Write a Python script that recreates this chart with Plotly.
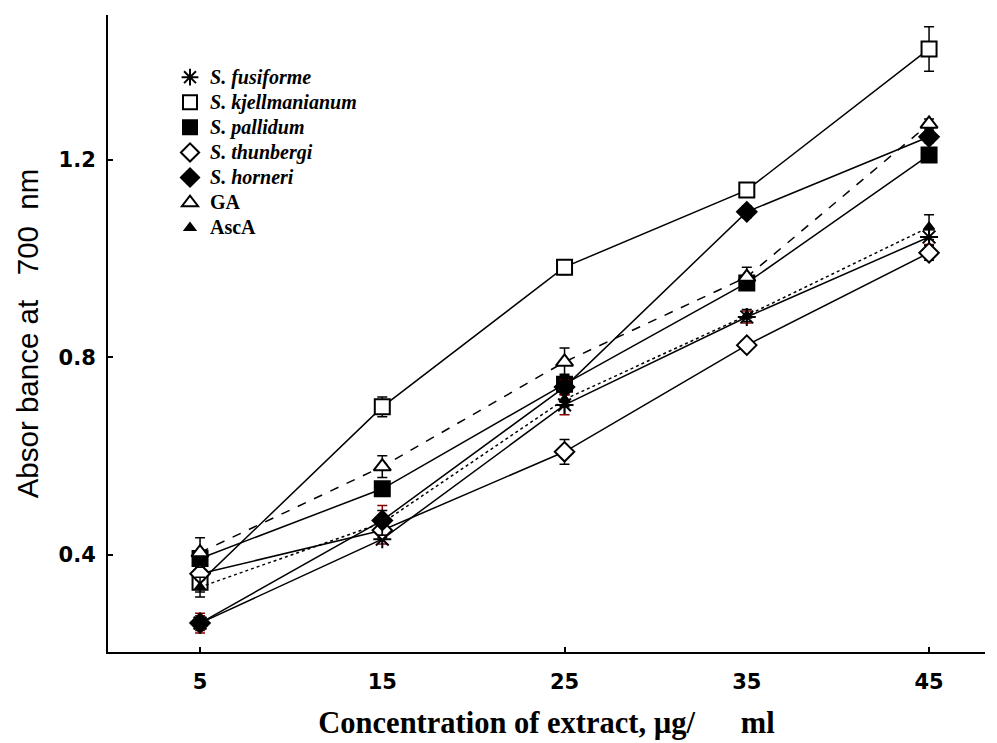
import plotly.graph_objects as go

concentration = [5, 15, 25, 35, 45]

series_names = ["S. fusiforme", "S. kjellmanianum", "S. pallidum", "S. thunbergi",
                "S. horneri", "GA", "AscA"]

fusiforme = [0.262, 0.432, 0.704, 0.882, 1.044]
kjellmanianum = [0.345, 0.700, 0.983, 1.139, 1.425]
pallidum = [0.393, 0.534, 0.746, 0.951, 1.210]
thunbergi = [0.362, 0.450, 0.609, 0.825, 1.012]
horneri = [0.262, 0.470, 0.740, 1.095, 1.247]
ga = [0.405, 0.579, 0.791, 0.963, 1.273]
asca = [0.335, 0.465, 0.715, 0.885, 1.064]

err_fusiforme = [0.02, 0.01, 0.02, 0.012, 0.015]
err_kjellmanianum = [0.02, 0.02, 0.015, 0.012, 0.045]
err_pallidum = [0.012, 0.01, 0.02, 0.015, 0.012]
err_thunbergi = [0.012, 0.015, 0.025, 0.01, 0.015]
err_horneri = [0.015, 0.03, 0.015, 0.012, 0.012]
err_ga = [0.03, 0.022, 0.028, 0.02, 0.01]
err_asca = [0.02, 0.025, 0.015, 0.012, 0.025]

x_tick_labels = ["5", "15", "25", "35", "45"]
x_major_ticks = [5, 25, 45]
y_ticks = [0.4, 0.8, 1.2]
y_tick_labels = ["0.4", "0.8", "1.2"]

# name, values, errors, symbol, fill, size, line dash, error-bar colour
styles = [
    ("<i>S. fusiforme</i>", fusiforme, err_fusiforme, "asterisk-open", "black", 15, "solid", "#8b0000"),
    ("<i>S. kjellmanianum</i>", kjellmanianum, err_kjellmanianum, "square", "white", 15, "solid", "black"),
    ("<i>S. pallidum</i>", pallidum, err_pallidum, "square", "black", 15, "solid", "black"),
    ("<i>S. thunbergi</i>", thunbergi, err_thunbergi, "diamond", "white", 15, "solid", "black"),
    ("<i>S. horneri</i>", horneri, err_horneri, "diamond", "black", 15, "solid", "#8b0000"),
    ("GA", ga, err_ga, "triangle-up", "white", 15, "dash", "black"),
    ("AscA", asca, err_asca, "triangle-up", "black", 9, "dot", "black"),
]

fig = go.Figure()
for name, ys, es, sym, fill, size, dash, ecol in styles:
    fig.add_trace(go.Scatter(
        x=concentration, y=ys, name=name, mode="lines+markers", showlegend=False,
        line=dict(color="black", width=1.5, dash=dash),
        marker=dict(symbol=sym, size=size, color=fill, line=dict(color="black", width=2)),
        error_y=dict(type="data", array=es, visible=True, color=ecol, thickness=1.5, width=5),
    ))
    # legend entry (marker glyph only)
    fig.add_trace(go.Scatter(
        x=[None], y=[None], mode="markers", showlegend=True,
        name='<span style="font-size:20px">' + name + "</span>",
        marker=dict(symbol=sym, size=min(size, 14), color=fill,
                    line=dict(color="black", width=2)),
    ))

# secondary overlay axis only for the major tick marks
fig.add_trace(go.Scatter(x=[None], y=[None], xaxis="x2", showlegend=False, hoverinfo="skip"))

xr = [-0.05, 48.07]
yr = [0.2035, 1.4937]

fig.update_layout(
    width=997, height=743,
    margin=dict(l=100, r=20, t=7, b=99),
    paper_bgcolor="white", plot_bgcolor="white",
    showlegend=True,
    legend=dict(x=0.0707, y=0.930, xanchor="left", yanchor="top",
                font=dict(family="Liberation Serif", size=17, color="black", weight="bold"),
                bgcolor="rgba(0,0,0,0)", tracegroupgap=0, itemwidth=30),
    xaxis=dict(range=xr, tickvals=concentration, ticktext=x_tick_labels, ticks="",
               showline=True, linecolor="black", linewidth=2, showgrid=False, zeroline=False,
               tickfont=dict(family="DejaVu Sans", size=21, color="black", weight="bold"),
               ticklabelstandoff=10,
               title=dict(text="Concentration of extract, µg/\u00a0\u00a0\u00a0\u00a0\u00a0\u00a0ml",
                          font=dict(family="Liberation Serif", size=30.5, color="black", weight="bold"),
                          standoff=18)),
    xaxis2=dict(range=xr, overlaying="x", anchor="y", side="bottom", tickvals=x_major_ticks,
                showticklabels=False, ticks="inside", ticklen=5, tickwidth=1.5, tickcolor="black",
                showline=False, showgrid=False, zeroline=False),
    yaxis=dict(range=yr, tickvals=y_ticks, ticktext=y_tick_labels, ticks="inside", ticklen=5,
               tickwidth=1.5, tickcolor="black",
               showline=True, linecolor="black", linewidth=2, showgrid=False, zeroline=False,
               tickfont=dict(family="DejaVu Sans", size=21, color="black", weight="bold"),
               ticklabelstandoff=6,
               title=dict(text="Absor bance at\u00a0\u00a0\u00a0700\u00a0\u00a0nm",
                          font=dict(family="Liberation Sans", size=29.5, color="black"),
                          standoff=11)),
)

fig.write_html("out.html")
